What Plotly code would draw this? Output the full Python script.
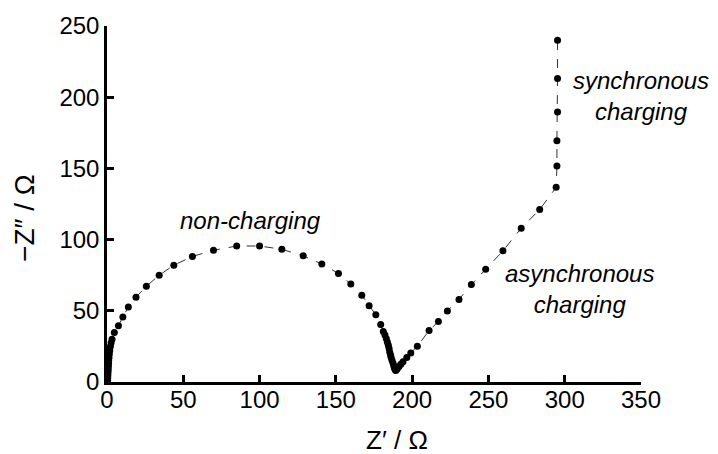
import plotly.graph_objects as go

# Nyquist data (Z' and -Z'' in ohm)
z_real = [0.4, 0.5, 0.6, 0.7, 0.8, 0.9, 1.0, 1.1, 1.3, 1.5, 1.8, 2.2, 2.7, 3.3,
          4.8, 7.5, 10.4, 14.0, 19.0, 25.8, 34.2, 43.8, 56.0, 69.8, 85.0, 100.0,
          114.6, 128.6, 140.8, 151.7, 159.8, 167.0, 171.8, 176.2, 179.4, 181.1,
          182.2, 183.1, 183.8, 184.4, 184.9, 185.3, 185.8, 186.2, 186.8, 187.5,
          188.0, 188.4, 189.0, 189.3,
          190.2, 191.4, 192.6, 194.0, 196.5, 199.1, 203.4, 211.1, 217.2, 223.1,
          230.7, 238.8, 248.2, 259.5, 271.5, 283.6, 294.4, 294.9, 294.9, 295.3,
          295.3, 295.3]
z_imag = [1, 3, 5, 7, 9, 11, 13, 15, 17, 19.5, 22, 25, 27.5, 30,
          34.7, 39.5, 45.7, 52.6, 59.6, 67.2, 75.0, 82.0, 88.2, 92.5, 95.5, 95.5,
          93.2, 88.6, 82.9, 76.2, 68.8, 61.0, 53.6, 47.2, 40.3, 35.4,
          33.0, 30.4, 28.0, 25.8, 23.5, 21.1, 19.2, 17.3, 15.2, 13.1,
          11.3, 9.7, 8.5, 8.0,
          9.2, 10.8, 12.5, 14.2, 17.2, 20.4, 25.1, 36.1, 42.5, 49.9,
          58.0, 68.4, 79.1, 92.1, 108.0, 121.1, 136.7, 151.7, 169.4, 189.6,
          213.1, 240.0]

x_ticks = [0, 50, 100, 150, 200, 250, 300, 350]
y_ticks = [0, 50, 100, 150, 200, 250]

labels = ["non-charging", "asynchronous<br>charging", "synchronous<br>charging"]
label_x = [94.3, 309.6, 349.9]
label_y = [113.5, 65.1, 200.5]

FONT = "Liberation Sans, Arial, sans-serif"

fig = go.Figure()
fig.add_trace(go.Scatter(
    x=z_real, y=z_imag, mode="lines+markers",
    line=dict(color="#333333", width=1, dash="dash"),
    marker=dict(color="black", size=7),
    cliponaxis=False, showlegend=False,
))

for t, x, y in zip(labels, label_x, label_y):
    fig.add_annotation(x=x, y=y, xref="x", yref="y", text=f"<i>{t}</i>",
                       showarrow=False, font=dict(family=FONT, size=24, color="black"),
                       align="center")

# axis titles
fig.add_annotation(x=190, y=0, xref="x", yref="paper", yshift=-58,
                   xanchor="center", yanchor="middle", text="Z\u2032 / \u03a9",
                   showarrow=False, font=dict(family=FONT, size=26, color="black"))
fig.add_annotation(x=0, y=0.461, xref="paper", yref="paper", xshift=-82,
                   xanchor="center", yanchor="middle", text="\u2212Z\u2033 / \u03a9",
                   textangle=-90, showarrow=False, font=dict(family=FONT, size=28, color="black"))

axis_common = dict(showgrid=False, zeroline=False, showline=True, linecolor="black",
                   linewidth=2.5, ticks="inside", ticklen=7, tickwidth=2.5, tickcolor="black",
                   tickfont=dict(family=FONT, size=24, color="black"))

fig.update_xaxes(range=[0, 350], tickvals=x_ticks, ticktext=[str(v) for v in x_ticks],
                 ticklabelstandoff=-6, **axis_common)
fig.update_yaxes(range=[0, 250], tickvals=y_ticks, ticktext=[str(v) for v in y_ticks], **axis_common)

fig.update_layout(
    width=718, height=454,
    margin=dict(l=107, r=77, t=20, b=72),
    plot_bgcolor="white", paper_bgcolor="white",
    font=dict(family=FONT, color="black"),
)

fig.write_html("out.html")
